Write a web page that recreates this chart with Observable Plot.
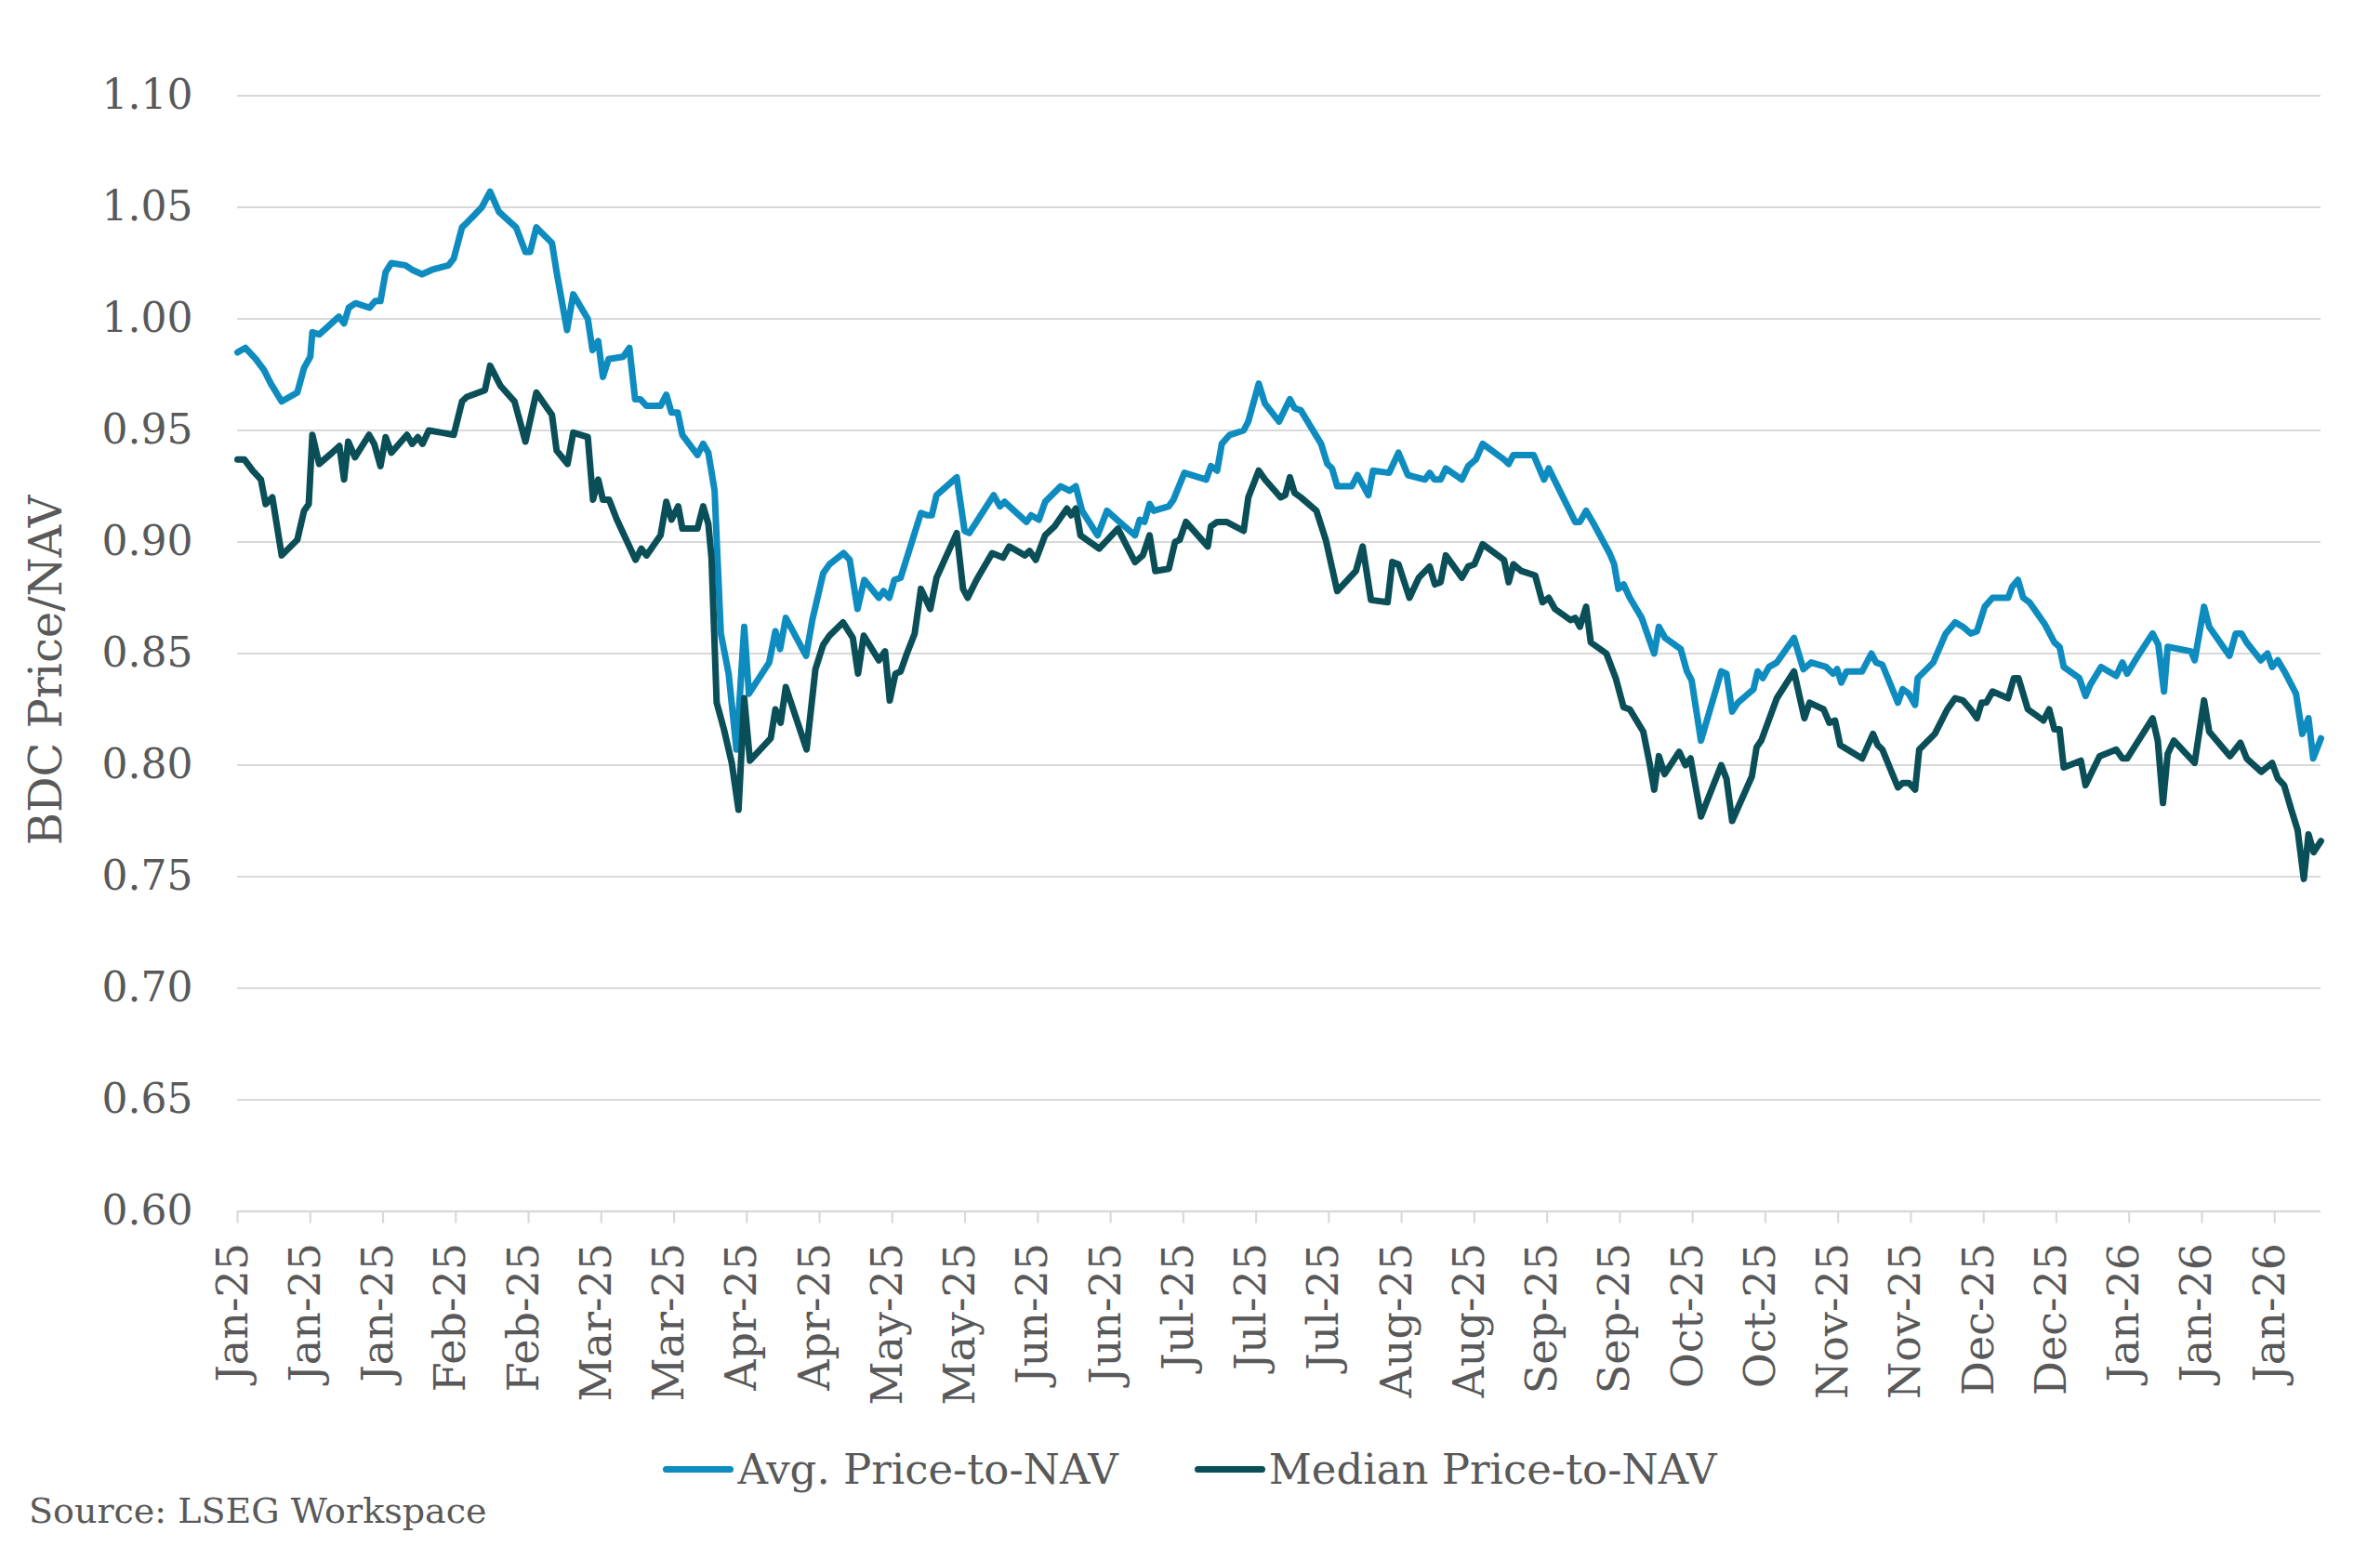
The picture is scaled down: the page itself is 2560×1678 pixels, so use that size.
<!DOCTYPE html>
<html>
<head>
<meta charset="utf-8">
<script src="https://cdn.jsdelivr.net/npm/d3@7"></script>
<script src="https://cdn.jsdelivr.net/npm/@observablehq/plot@0.6"></script>
<style>
html, body { margin: 0; padding: 0; background: #ffffff; }
#wrap { position: relative; width: 2560px; height: 1678px; font-family: Georgia, "DejaVu Serif", serif; color: #595959; }
#chart { position: absolute; left: 0; top: 0; }
#legend { position: absolute; left: 0; top: 1548px; width: 2560px; height: 64px; display: flex; justify-content: center; align-items: center; gap: 82px; font-size: 45px; }
#legend .item { display: flex; align-items: center; }
#legend .sw { width: 76px; height: 7px; border-radius: 4px; margin-right: 4px; }
#source { position: absolute; left: 31px; top: 1603px; font-size: 38px; line-height: 44px; }
</style>
</head>
<body>
<div id="wrap">
  <div id="chart"></div>
  <div id="legend"></div>
  <div id="source">Source: LSEG Workspace</div>
</div>
<script>
// ---- Data ----
// x positions are days since 2 Jan 2025 (first observation)
const seriesNames = ["Avg. Price-to-NAV", "Median Price-to-NAV"];
const seriesColors = ["#0E8CC0", "#0A4F58"];
const yTitle = "BDC Price/NAV";

const avgDays = [0,1.5,3.5,5.1,6.4,8.5,11.5,12.8,14.0,14.4,15.7,19.5,20.5,21.4,22.7,25.4,26.5,27.5,28.5,29.6,32.3,33.6,35.5,37.4,40.6,41.6,43.2,44.1,47.0,48.6,50.3,53.6,55.4,56.3,57.5,60.5,61.4,63.4,64.6,67.4,68.3,69.4,70.3,71.4,74.2,75.4,76.5,77.5,78.7,81.4,82.5,83.5,84.7,85.6,88.5,89.6,90.6,91.8,92.2,93.0,94.5,96.0,97.5,98.4,102.3,103.5,104.4,105.5,109.4,110.6,112.7,113.9,116.6,117.8,119.3,120.6,123.4,124.3,125.4,126.4,127.6,131.5,132.7,133.6,134.5,138.4,139.9,140.8,145.5,146.7,147.6,151.8,152.7,154.2,155.4,158.4,160.1,161.3,162.5,165.5,167.3,169.7,172.7,173.6,174.5,175.5,176.3,179.2,180.1,182.2,186.4,187.3,188.5,189.4,190.9,193.6,194.5,196.5,197.7,200.4,202.5,203.4,204.6,208.5,209.7,210.6,211.6,214.4,215.5,217.6,218.5,221.6,223.4,225.2,228.5,229.4,230.3,231.5,232.5,235.6,236.8,238.3,239.6,243.7,244.6,245.5,249.4,251.4,252.3,257.4,258.3,259.5,261.0,264.0,264.9,265.7,266.7,267.9,270.2,271.4,272.6,273.5,274.7,277.7,278.9,279.8,281.6,285.5,286.5,287.6,288.7,291.7,292.5,293.5,294.7,296.2,299.5,301.3,302.8,305.7,307.0,307.8,308.6,309.6,312.6,314.4,315.3,316.5,319.5,320.4,321.6,322.8,323.3,326.3,328.7,330.5,332.0,333.5,334.7,336.2,337.7,340.7,341.5,342.6,343.6,344.8,347.8,349.6,350.6,351.4,354.4,355.6,356.5,358.6,361.5,362.7,363.6,365.7,368.5,369.6,370.7,371.4,375.9,376.6,378.4,379.4,383.3,384.5,385.6,386.6,389.3,390.6,391.5,392.6,394.1,396.1,397.3,398.5,399.4,400.9];
const avgValues = [0.985,0.987,0.982,0.977,0.971,0.963,0.967,0.978,0.983,0.994,0.993,1.001,0.998,1.005,1.007,1.005,1.008,1.008,1.021,1.025,1.024,1.022,1.020,1.022,1.024,1.027,1.041,1.043,1.050,1.057,1.048,1.041,1.030,1.030,1.041,1.034,1.021,0.995,1.011,1.000,0.986,0.990,0.974,0.982,0.983,0.987,0.964,0.964,0.961,0.961,0.966,0.958,0.958,0.948,0.939,0.944,0.940,0.923,0.901,0.859,0.841,0.807,0.862,0.832,0.846,0.860,0.852,0.866,0.849,0.865,0.886,0.890,0.895,0.892,0.870,0.883,0.875,0.878,0.875,0.883,0.884,0.913,0.912,0.912,0.921,0.929,0.905,0.904,0.921,0.916,0.918,0.909,0.912,0.910,0.918,0.925,0.923,0.925,0.914,0.903,0.914,0.909,0.903,0.910,0.909,0.917,0.914,0.916,0.919,0.931,0.928,0.934,0.932,0.944,0.948,0.950,0.954,0.971,0.962,0.954,0.964,0.960,0.959,0.944,0.935,0.933,0.925,0.925,0.930,0.921,0.932,0.931,0.940,0.930,0.928,0.931,0.928,0.928,0.933,0.928,0.934,0.937,0.944,0.937,0.935,0.939,0.939,0.928,0.933,0.909,0.909,0.914,0.908,0.895,0.890,0.879,0.881,0.875,0.866,0.858,0.850,0.862,0.857,0.852,0.842,0.838,0.811,0.842,0.841,0.824,0.828,0.834,0.842,0.839,0.844,0.846,0.857,0.843,0.846,0.844,0.841,0.843,0.837,0.842,0.842,0.850,0.846,0.845,0.828,0.834,0.832,0.827,0.839,0.846,0.859,0.864,0.862,0.859,0.860,0.871,0.875,0.875,0.880,0.883,0.875,0.873,0.863,0.855,0.853,0.844,0.839,0.831,0.836,0.844,0.840,0.846,0.841,0.849,0.859,0.854,0.833,0.853,0.851,0.847,0.871,0.862,0.849,0.859,0.859,0.855,0.847,0.850,0.844,0.847,0.841,0.832,0.814,0.821,0.803,0.812];

const medDays = [0,1.3,2.9,4.5,5.4,6.7,8.5,11.5,12.8,13.7,14.4,15.7,18.2,19.6,20.5,21.3,22.6,25.3,26.3,27.5,28.5,29.6,32.6,33.6,34.7,35.6,36.8,39.3,41.6,43.2,44.1,47.6,48.6,50.6,53.3,55.4,57.5,60.5,61.4,63.5,64.6,67.4,68.4,69.4,70.3,71.5,73.0,75.4,76.6,77.7,78.7,81.4,82.5,83.5,84.8,85.6,88.5,89.6,90.6,91.2,92.2,93.6,95.1,96.4,97.5,98.6,102.6,103.5,104.5,105.5,109.5,111.2,112.7,113.9,116.5,118.4,119.4,120.5,123.4,124.6,125.5,126.6,127.6,128.8,130.3,131.5,133.3,134.5,138.4,139.6,140.5,142.2,145.2,147.3,148.5,151.5,152.4,153.6,155.4,157.2,159.6,160.4,161.3,162.2,165.8,169.4,172.7,174.2,175.5,176.6,179.2,180.4,181.3,182.5,186.7,187.3,188.5,190.3,193.6,194.5,196.5,197.7,200.7,201.6,202.5,203.4,204.6,207.6,209.4,211.6,215.2,216.5,218.1,221.3,222.2,223.4,225.5,227.3,229.4,230.4,231.5,232.5,235.6,236.8,238.0,239.6,243.7,244.6,245.5,247.0,249.7,251.1,252.3,253.5,256.5,257.4,258.3,259.5,260.4,263.4,265.2,266.7,267.9,270.5,271.7,272.6,273.5,274.6,277.4,278.6,279.6,281.6,285.5,286.5,287.6,291.4,292.3,293.2,296.2,299.5,301.5,302.5,305.2,306.3,307.4,308.4,312.6,314.7,315.6,316.5,319.5,320.4,321.6,322.8,323.6,326.6,329.0,330.5,332.0,333.5,334.7,335.6,336.5,337.7,340.7,341.8,342.7,344.5,347.5,348.6,349.6,350.6,351.4,354.7,355.6,358.3,361.5,362.7,363.6,368.5,369.5,370.5,371.4,372.6,376.6,378.4,379.4,383.4,385.4,386.6,389.4,391.5,392.6,393.8,395.2,396.4,397.6,398.5,399.5,400.9];
const medValues = [0.937,0.937,0.932,0.928,0.917,0.920,0.894,0.901,0.914,0.917,0.948,0.935,0.940,0.943,0.928,0.945,0.938,0.948,0.944,0.934,0.947,0.940,0.948,0.944,0.947,0.944,0.950,0.949,0.948,0.963,0.965,0.968,0.979,0.970,0.963,0.945,0.967,0.957,0.941,0.935,0.949,0.947,0.919,0.928,0.919,0.919,0.910,0.898,0.892,0.897,0.894,0.903,0.918,0.910,0.916,0.906,0.906,0.916,0.908,0.893,0.828,0.816,0.801,0.780,0.830,0.802,0.812,0.825,0.819,0.835,0.807,0.843,0.854,0.858,0.864,0.857,0.841,0.858,0.847,0.851,0.829,0.841,0.842,0.850,0.859,0.879,0.870,0.884,0.904,0.879,0.875,0.883,0.895,0.893,0.898,0.894,0.896,0.892,0.903,0.907,0.915,0.912,0.915,0.903,0.897,0.906,0.891,0.894,0.903,0.887,0.888,0.900,0.901,0.909,0.898,0.907,0.909,0.909,0.905,0.920,0.932,0.928,0.920,0.921,0.929,0.922,0.920,0.914,0.901,0.878,0.887,0.898,0.874,0.873,0.891,0.890,0.875,0.884,0.889,0.881,0.882,0.894,0.884,0.889,0.890,0.899,0.892,0.882,0.890,0.887,0.885,0.873,0.875,0.870,0.865,0.866,0.862,0.871,0.855,0.850,0.839,0.826,0.825,0.815,0.801,0.789,0.804,0.796,0.806,0.800,0.803,0.777,0.800,0.794,0.775,0.795,0.808,0.811,0.830,0.842,0.821,0.828,0.825,0.819,0.820,0.809,0.803,0.814,0.809,0.807,0.790,0.792,0.792,0.789,0.807,0.814,0.825,0.830,0.829,0.825,0.821,0.828,0.828,0.833,0.830,0.839,0.839,0.825,0.820,0.825,0.816,0.816,0.799,0.802,0.791,0.804,0.807,0.803,0.803,0.821,0.811,0.783,0.805,0.811,0.801,0.829,0.815,0.804,0.810,0.803,0.797,0.801,0.794,0.791,0.780,0.771,0.749,0.769,0.761,0.766];

const yTicks = [0.60, 0.65, 0.70, 0.75, 0.80, 0.85, 0.90, 0.95, 1.00, 1.05, 1.10];
const xTickDateStrings = ["2025-01-02","2025-01-16","2025-01-30","2025-02-13","2025-02-27","2025-03-13","2025-03-27","2025-04-10","2025-04-24","2025-05-08","2025-05-22","2025-06-05","2025-06-19","2025-07-03","2025-07-17","2025-07-31","2025-08-14","2025-08-28","2025-09-11","2025-09-25","2025-10-09","2025-10-23","2025-11-06","2025-11-20","2025-12-04","2025-12-18","2026-01-01","2026-01-15","2026-01-29"];
const xTickLabels = ["Jan-25","Jan-25","Jan-25","Feb-25","Feb-25","Mar-25","Mar-25","Apr-25","Apr-25","May-25","May-25","Jun-25","Jun-25","Jul-25","Jul-25","Jul-25","Aug-25","Aug-25","Sep-25","Sep-25","Oct-25","Oct-25","Nov-25","Nov-25","Dec-25","Dec-25","Jan-26","Jan-26","Jan-26"];

// ---- Build ----
const start = Date.UTC(2025, 0, 2);
const toDate = d => new Date(start + d * 864e5);
const avg = avgDays.map((d, i) => ({date: toDate(d), value: avgValues[i]}));
const med = medDays.map((d, i) => ({date: toDate(d), value: medValues[i]}));
const xTickDates = xTickDateStrings.map(s => new Date(s + "T00:00:00Z"));
const FONT = 'Georgia, "DejaVu Serif", serif';
const TXT = "#595959";
const GRID = "#D9D9D9";

const chart = Plot.plot({
  width: 2560,
  height: 1520,
  marginLeft: 255,
  marginRight: 64,
  marginTop: 102.5,
  marginBottom: 217.5,
  style: {fontFamily: FONT, fontSize: "44px", color: TXT, background: "#ffffff", overflow: "visible"},
  x: {type: "utc", domain: d3.extent([...avg, ...med], d => d.date)},
  y: {domain: [0.60, 1.10]},
  marks: [
    Plot.ruleY(yTicks.slice(1), {stroke: GRID, strokeWidth: 2.2}),
    Plot.ruleY([0.60], {stroke: GRID, strokeWidth: 2.6}),
    Plot.axisY({ticks: yTicks, tickFormat: d3.format(".2f"), tickSize: 0, tickPadding: 48, label: null, fontSize: 44}),
    Plot.axisX({ticks: xTickDates, tickSize: 13, tickFormat: () => "", label: null, stroke: GRID, strokeWidth: 2.2}),
    Plot.text(xTickDates, {x: d => d, text: (d, i) => xTickLabels[i], frameAnchor: "bottom", rotate: -90, textAnchor: "end", dy: 34, dx: 10, fontSize: 46, fill: TXT}),
    Plot.text([yTitle], {frameAnchor: "left", rotate: -90, textAnchor: "middle", dx: -205, dy: 18, fontSize: 48, fill: TXT}),
    Plot.line(avg, {x: "date", y: "value", stroke: seriesColors[0], strokeWidth: 7, strokeLinejoin: "round", strokeLinecap: "round"}),
    Plot.line(med, {x: "date", y: "value", stroke: seriesColors[1], strokeWidth: 7, strokeLinejoin: "round", strokeLinecap: "round"})
  ]
});
document.getElementById("chart").appendChild(chart);

// Legend
const legend = document.getElementById("legend");
seriesNames.forEach((name, i) => {
  const item = document.createElement("div");
  item.className = "item";
  const sw = document.createElement("div");
  sw.className = "sw";
  sw.style.background = seriesColors[i];
  const label = document.createElement("span");
  label.textContent = name;
  item.appendChild(sw);
  item.appendChild(label);
  legend.appendChild(item);
});
</script>
</body>
</html>
